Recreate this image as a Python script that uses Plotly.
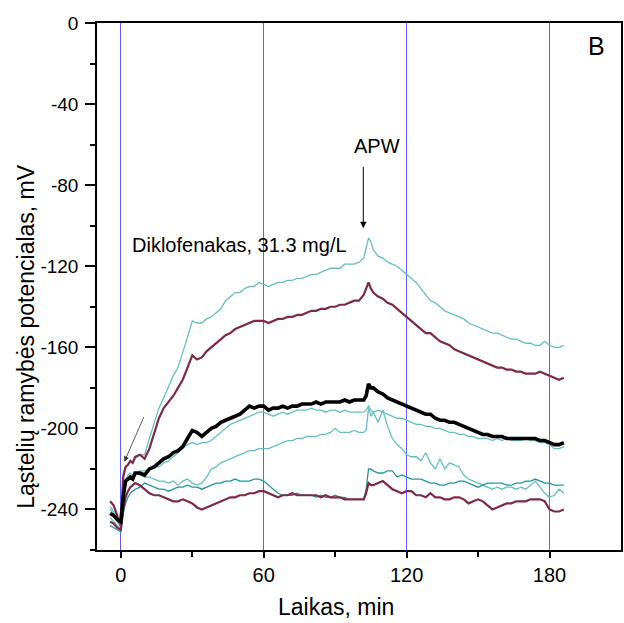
import plotly.graph_objects as go

# time axis (min)
T = [-4.5, -3, -1.5, 0, 1, 2, 3, 4, 5, 6, 8, 10, 12, 14, 16, 18, 20, 22, 24, 26,
     28, 30, 32, 34, 36, 38, 40, 42, 44, 46, 48, 50, 52, 54, 56, 58, 60, 62, 64, 66,
     68, 70, 72, 74, 76, 78, 80, 82, 84, 86, 88, 90, 92, 94, 96, 98, 100, 102, 103, 104,
     105, 106, 108, 110, 112, 114, 116, 118, 120, 122, 124, 126, 128, 130, 132, 134, 136, 138, 140, 142,
     144, 146, 148, 150, 152, 154, 156, 158, 160, 162, 164, 166, 168, 170, 172, 174, 176, 178, 180, 182,
     184, 186]

teal_top = [-238.5, -241, -245, -248, -222, -219, -218, -216, -217, -215, -213, -213, -205, -197, -190, -185, -179, -174, -170, -163,
            -155, -147, -148, -148, -146, -145, -143, -141, -137, -135, -133, -133, -131, -130, -130, -128, -129, -130, -129, -128,
            -128, -127, -127, -126, -126, -125, -124, -124, -123, -122, -121, -121, -121, -119, -119, -119, -118, -116, -111, -106,
            -108, -112, -115, -116, -118, -119, -120, -122, -124, -126, -128, -131, -134, -137, -138, -140, -142, -143, -144, -145,
            -146, -148, -149, -150, -151, -152, -153, -153, -154, -155, -156, -156, -157, -158, -158, -159, -159, -157, -159, -160,
            -160, -159]

maroon_top = [-236, -238, -243, -248, -224, -219, -218, -216, -217, -214, -213, -215, -210, -203, -195, -190, -187, -184, -180, -176,
              -170, -164, -166, -165, -162, -160, -158, -156, -154, -153, -151, -150, -149, -148, -147, -147, -147, -148, -147, -146,
              -146, -145, -145, -144, -144, -143, -142, -142, -141, -141, -140, -140, -139, -139, -138, -137, -137, -134, -131, -128,
              -131, -133, -135, -136, -138, -139, -141, -143, -145, -147, -149, -151, -153, -153, -155, -157, -158, -159, -161, -162,
              -163, -164, -165, -166, -167, -168, -169, -170, -170, -171, -171, -172, -172, -173, -173, -173, -172, -173, -174, -175,
              -176, -175]

black_mean = [-242, -243, -245, -246, -234, -226, -225, -224, -225, -222, -222, -223, -220, -219, -217, -215, -214, -212, -211, -209,
              -205, -201, -202, -204, -202, -200, -199, -197, -196, -195, -194, -193, -191, -189, -190, -189, -189, -191, -190, -190,
              -189, -190, -189, -189, -188, -188, -188, -187, -188, -187, -187, -187, -187, -186, -187, -186, -186, -186, -184, -178,
              -180, -180, -182, -183, -185, -186, -187, -188, -189, -190, -191, -192, -193, -193, -195, -196, -196, -197, -197, -198,
              -199, -200, -201, -202, -203, -203, -204, -204, -204, -205, -205, -205, -205, -205, -205, -205, -206, -206, -207, -208,
              -208, -207]

teal_mid = [-240, -242, -246, -249, -230, -225, -224, -223, -224, -222, -221, -221, -220, -219, -219, -217, -216, -214, -212, -210,
            -208, -207, -208, -207, -207, -206, -204, -202, -200, -198, -197, -196, -195, -194, -193, -192, -192, -193, -194, -193,
            -192, -193, -192, -191, -191, -191, -190, -191, -191, -192, -191, -191, -192, -191, -192, -192, -192, -192, -191, -189,
            -191, -192, -191, -192, -193, -194, -195, -195, -196, -197, -198, -198, -199, -199, -200, -200, -201, -202, -202, -203,
            -203, -204, -204, -205, -205, -205, -206, -205, -206, -205, -206, -206, -206, -205, -206, -206, -207, -207, -208, -210,
            -210, -209]

teal_low = [-244, -246, -248, -250, -232, -226, -223, -222, -223, -222, -223, -224, -224, -225, -226, -226, -227, -226, -228, -226,
            -225, -227, -228, -227, -224, -220, -219, -217, -216, -215, -214, -213, -212, -211, -211, -210, -210, -210, -209, -208,
            -207, -206, -206, -205, -205, -204, -204, -204, -203, -203, -202, -200, -202, -202, -202, -201, -202, -202, -201, -190,
            -194, -192, -197, -191, -199, -205, -208, -210, -213, -214, -214, -216, -212, -217, -220, -215, -220, -217, -218, -219,
            -223, -225, -226, -227, -228, -229, -230, -229, -230, -229, -229, -230, -229, -230, -228, -226, -229, -232, -234, -233,
            -230, -232]

teal_dark = [-248, -249, -250, -251, -242, -237, -234, -232, -231, -230, -229, -227, -228, -229, -230, -230, -231, -230, -229, -229,
             -228, -229, -229, -230, -229, -228, -227, -227, -226, -226, -225, -226, -226, -226, -225, -225, -226, -228, -230, -232,
             -233, -233, -233, -232, -233, -233, -233, -234, -233, -234, -234, -233, -234, -234, -235, -235, -235, -235, -230, -220,
             -220, -221, -222, -222, -221, -221, -224, -223, -224, -225, -225, -225, -226, -227, -227, -228, -228, -227, -227, -226,
             -226, -227, -228, -229, -228, -227, -227, -227, -227, -228, -228, -227, -227, -226, -226, -225, -226, -227, -227, -228,
             -228, -228]

maroon_low = [-246, -247, -249, -250, -240, -234, -231, -229, -228, -227, -228, -230, -232, -233, -233, -234, -235, -236, -236, -235,
              -236, -237, -239, -240, -239, -238, -237, -236, -235, -234, -234, -233, -233, -232, -232, -231, -231, -232, -233, -234,
              -233, -233, -232, -233, -233, -233, -233, -233, -234, -233, -234, -234, -234, -235, -235, -235, -235, -235, -232, -227,
              -228, -228, -227, -226, -228, -230, -231, -232, -231, -231, -233, -233, -234, -232, -234, -234, -235, -235, -234, -234,
              -235, -237, -236, -235, -236, -238, -240, -239, -238, -237, -237, -236, -236, -236, -235, -235, -235, -236, -240, -241,
              -241, -240]

x_tickvals = [0, 60, 120, 180]
x_ticktext = ["0", "60", "120", "180"]
x_minor = [30, 90, 150]
y_tickvals = [-240, -200, -160, -120, -80, -40, 0]
y_ticktext = ["-240", "-200", "-160", "-120", "-80", "-40", "0"]
y_minor = [-260, -220, -180, -140, -100, -60, -20]

LIGHT_TEAL = "rgb(104,190,190)"
DARK_TEAL = "rgb(40,150,150)"
MAROON = "rgb(125,42,72)"
FONT = "Liberation Sans, Arial, sans-serif"

fig = go.Figure()
for ys, col, w in [(teal_top, LIGHT_TEAL, 1.3), (teal_mid, LIGHT_TEAL, 1.3), (teal_low, LIGHT_TEAL, 1.3),
                   (teal_dark, DARK_TEAL, 1.3), (maroon_top, MAROON, 2.2), (maroon_low, MAROON, 2.2),
                   (black_mean, "black", 3.6)]:
    fig.add_trace(go.Scatter(x=T, y=ys, mode="lines", line=dict(color=col, width=w), showlegend=False))

fig.update_xaxes(range=[-10, 210], tickmode="array", tickvals=x_tickvals, ticktext=x_ticktext,
                 showgrid=True, gridcolor="rgb(95,95,255)", gridwidth=1, zeroline=False,
                 showline=True, linecolor="black", linewidth=1.5, mirror=True,
                 ticks="outside", ticklen=6, tickwidth=1.5, tickcolor="black",
                 minor=dict(tickvals=x_minor, ticks="outside", ticklen=5, tickwidth=1.5, tickcolor="black", showgrid=False),
                 tickfont=dict(family=FONT, size=20, color="black"))
fig.update_yaxes(range=[-260, 0], tickmode="array", tickvals=y_tickvals, ticktext=y_ticktext,
                 showgrid=False, zeroline=False,
                 showline=True, linecolor="black", linewidth=1.5, mirror=True,
                 ticks="outside", ticklen=10, tickwidth=1.5, tickcolor="black",
                 minor=dict(tickvals=y_minor, ticks="outside", ticklen=5, tickwidth=1.5, tickcolor="black", showgrid=False),
                 tickfont=dict(family=FONT, size=19, color="black"), ticklabelstandoff=3)

ann = [
    dict(text="B", x=0.954, y=0.956, xref="paper", yref="paper", showarrow=False,
         font=dict(family=FONT, size=25, color="black"), xanchor="center", yanchor="middle"),
    dict(text="APW", x=107.5, y=-60.8, showarrow=False, font=dict(family=FONT, size=20, color="black"),
         xanchor="center", yanchor="middle"),
    dict(text="Diklofenakas, 31.3 mg/L", x=3.9, y=-109.6, showarrow=False,
         font=dict(family=FONT, size=20, color="black"), xanchor="left", yanchor="middle"),
    dict(text="", x=101.8, y=-101.3, ax=0, ay=-63, showarrow=True, arrowhead=2, arrowsize=1.3,
         arrowwidth=1, arrowcolor="black", standoff=0),
    dict(text="", x=1.5, y=-216.4, ax=20, ay=-46, showarrow=True, arrowhead=2, arrowsize=1.3,
         arrowwidth=0.8, arrowcolor="#333333", standoff=0),
    dict(text="Ląstelių ramybės potencialas, mV", x=-0.137, y=0.405, xref="paper", yref="paper",
         showarrow=False, textangle=-90, font=dict(family=FONT, size=23, color="black"),
         xanchor="center", yanchor="middle"),
    dict(text="Laikas, min", x=0.456, y=-0.108, xref="paper", yref="paper", showarrow=False,
         font=dict(family=FONT, size=23, color="black"), xanchor="center", yanchor="middle"),
]
fig.update_layout(width=624, height=623, margin=dict(l=97, r=1, t=23, b=73),
                  paper_bgcolor="white", plot_bgcolor="white", annotations=ann,
                  font=dict(family=FONT))
fig.write_html("out.html")
